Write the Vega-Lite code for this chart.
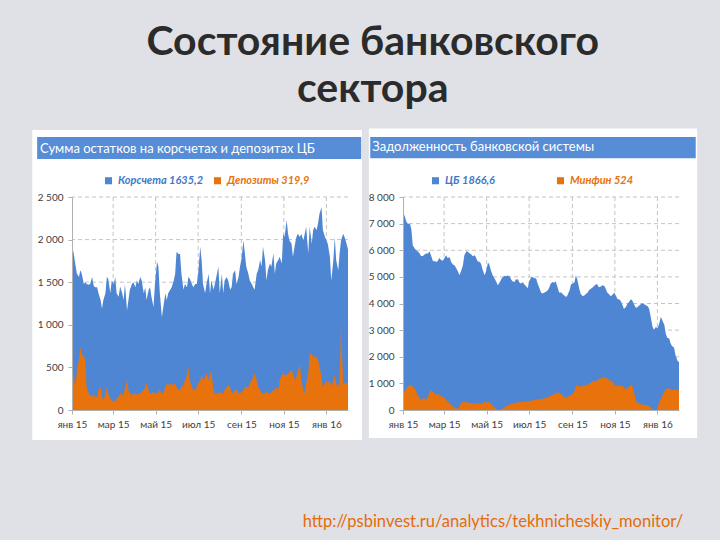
{
"$schema": "https://vega.github.io/schema/vega-lite/v6.json",
"background": "#dfe1e6",
"padding": {"left": 32, "top": 22, "right": 23, "bottom": 13},
"title": {"text": ["Состояние банковского", "сектора"], "font": "Lato", "fontSize": 41, "fontWeight": "bold", "color": "#2b2b2b", "lineHeight": 47, "anchor": "middle", "dx": 8, "offset": 17},
"config": {"view": {"stroke": null}},
"datasets": {"s": [
{"d":"2015-01-01","k":1860,"p":470,"c":7375,"m":560},
{"d":"2015-01-03","k":1860,"p":430,"c":7310,"m":690},
{"d":"2015-01-06","k":1700,"p":270,"c":7060,"m":810},
{"d":"2015-01-08","k":1600,"p":470,"c":7000,"m":875},
{"d":"2015-01-11","k":1560,"p":590,"c":7000,"m":935},
{"d":"2015-01-13","k":1640,"p":740,"c":6790,"m":935},
{"d":"2015-01-15","k":1600,"p":660,"c":6190,"m":875},
{"d":"2015-01-18","k":1480,"p":625,"c":6060,"m":810},
{"d":"2015-01-20","k":1500,"p":590,"c":6000,"m":690},
{"d":"2015-01-22","k":1480,"p":270,"c":5960,"m":560},
{"d":"2015-01-25","k":1470,"p":195,"c":5875,"m":440},
{"d":"2015-01-27","k":1480,"p":175,"c":5775,"m":375},
{"d":"2015-01-30","k":1560,"p":155,"c":5790,"m":440},
{"d":"2015-02-01","k":1460,"p":195,"c":5840,"m":440},
{"d":"2015-02-03","k":1440,"p":155,"c":5875,"m":375},
{"d":"2015-02-06","k":1440,"p":155,"c":5875,"m":500},
{"d":"2015-02-08","k":1370,"p":235,"c":5960,"m":690},
{"d":"2015-02-11","k":1290,"p":270,"c":5750,"m":750},
{"d":"2015-02-13","k":1190,"p":155,"c":5590,"m":690},
{"d":"2015-02-15","k":1290,"p":115,"c":5600,"m":625},
{"d":"2015-02-18","k":1370,"p":195,"c":5560,"m":560},
{"d":"2015-02-20","k":1560,"p":270,"c":5610,"m":625},
{"d":"2015-02-22","k":1540,"p":195,"c":5710,"m":560},
{"d":"2015-02-25","k":1370,"p":135,"c":5625,"m":500},
{"d":"2015-02-27","k":1520,"p":115,"c":5610,"m":500},
{"d":"2015-03-02","k":1480,"p":100,"c":5725,"m":440},
{"d":"2015-03-04","k":1560,"p":100,"c":5810,"m":375},
{"d":"2015-03-06","k":1370,"p":135,"c":5710,"m":310},
{"d":"2015-03-09","k":1330,"p":155,"c":5740,"m":250},
{"d":"2015-03-11","k":1450,"p":195,"c":5560,"m":190},
{"d":"2015-03-14","k":1370,"p":175,"c":5460,"m":125},
{"d":"2015-03-16","k":1290,"p":195,"c":5440,"m":90},
{"d":"2015-03-18","k":1480,"p":255,"c":5340,"m":60},
{"d":"2015-03-21","k":1170,"p":350,"c":5190,"m":60},
{"d":"2015-03-23","k":1290,"p":235,"c":5060,"m":125},
{"d":"2015-03-25","k":1410,"p":195,"c":5190,"m":250},
{"d":"2015-03-28","k":1480,"p":175,"c":5440,"m":310},
{"d":"2015-03-30","k":1500,"p":195,"c":5810,"m":310},
{"d":"2015-04-02","k":1440,"p":195,"c":5960,"m":290},
{"d":"2015-04-04","k":1520,"p":175,"c":5940,"m":275},
{"d":"2015-04-06","k":1480,"p":195,"c":5900,"m":275},
{"d":"2015-04-09","k":1560,"p":195,"c":5840,"m":260},
{"d":"2015-04-11","k":1520,"p":215,"c":5775,"m":250},
{"d":"2015-04-14","k":1370,"p":235,"c":5810,"m":250},
{"d":"2015-04-16","k":1440,"p":270,"c":5710,"m":250},
{"d":"2015-04-18","k":1290,"p":310,"c":5590,"m":250},
{"d":"2015-04-21","k":1410,"p":235,"c":5560,"m":225},
{"d":"2015-04-23","k":1440,"p":195,"c":5490,"m":225},
{"d":"2015-04-25","k":1330,"p":195,"c":5290,"m":250},
{"d":"2015-04-28","k":1210,"p":215,"c":5060,"m":310},
{"d":"2015-04-30","k":1480,"p":195,"c":5190,"m":260},
{"d":"2015-05-03","k":1740,"p":195,"c":5540,"m":310},
{"d":"2015-05-05","k":1680,"p":215,"c":5460,"m":290},
{"d":"2015-05-07","k":1370,"p":235,"c":5250,"m":240},
{"d":"2015-05-10","k":1090,"p":195,"c":5040,"m":160},
{"d":"2015-05-12","k":1210,"p":195,"c":4960,"m":90},
{"d":"2015-05-15","k":1370,"p":270,"c":4810,"m":50},
{"d":"2015-05-17","k":1290,"p":310,"c":4690,"m":12},
{"d":"2015-05-19","k":1370,"p":290,"c":4760,"m":0},
{"d":"2015-05-22","k":1410,"p":310,"c":4910,"m":25},
{"d":"2015-05-24","k":1440,"p":290,"c":4990,"m":60},
{"d":"2015-05-27","k":1520,"p":310,"c":5040,"m":100},
{"d":"2015-05-29","k":1600,"p":310,"c":5025,"m":140},
{"d":"2015-05-31","k":1855,"p":270,"c":5050,"m":175},
{"d":"2015-06-03","k":1830,"p":235,"c":5025,"m":200},
{"d":"2015-06-05","k":1830,"p":235,"c":4910,"m":225},
{"d":"2015-06-07","k":1600,"p":270,"c":4840,"m":240},
{"d":"2015-06-10","k":1410,"p":290,"c":4810,"m":260},
{"d":"2015-06-12","k":1480,"p":350,"c":4910,"m":275},
{"d":"2015-06-15","k":1440,"p":410,"c":4900,"m":290},
{"d":"2015-06-17","k":1560,"p":510,"c":4790,"m":300},
{"d":"2015-06-19","k":1540,"p":350,"c":4750,"m":290},
{"d":"2015-06-22","k":1480,"p":270,"c":4800,"m":310},
{"d":"2015-06-24","k":1440,"p":235,"c":4710,"m":310},
{"d":"2015-06-27","k":1480,"p":235,"c":4640,"m":325},
{"d":"2015-06-29","k":1480,"p":270,"c":4575,"m":310},
{"d":"2015-07-01","k":1600,"p":310,"c":4840,"m":325},
{"d":"2015-07-04","k":1915,"p":350,"c":4990,"m":360},
{"d":"2015-07-06","k":1760,"p":410,"c":5000,"m":360},
{"d":"2015-07-08","k":1480,"p":350,"c":4960,"m":375},
{"d":"2015-07-11","k":1370,"p":390,"c":4940,"m":390},
{"d":"2015-07-13","k":1480,"p":430,"c":4760,"m":400},
{"d":"2015-07-16","k":1600,"p":350,"c":4560,"m":400},
{"d":"2015-07-18","k":1370,"p":430,"c":4410,"m":410},
{"d":"2015-07-20","k":1520,"p":450,"c":4375,"m":425},
{"d":"2015-07-23","k":1410,"p":235,"c":4410,"m":440},
{"d":"2015-07-25","k":1480,"p":195,"c":4440,"m":450},
{"d":"2015-07-28","k":1600,"p":195,"c":4510,"m":490},
{"d":"2015-07-30","k":1680,"p":195,"c":4610,"m":500},
{"d":"2015-08-01","k":1370,"p":215,"c":4750,"m":540},
{"d":"2015-08-04","k":1600,"p":195,"c":4810,"m":575},
{"d":"2015-08-06","k":1370,"p":195,"c":4775,"m":610},
{"d":"2015-08-08","k":1520,"p":235,"c":4840,"m":625},
{"d":"2015-08-11","k":1560,"p":270,"c":4590,"m":650},
{"d":"2015-08-13","k":1520,"p":290,"c":4410,"m":660},
{"d":"2015-08-16","k":1410,"p":270,"c":4410,"m":600},
{"d":"2015-08-18","k":1440,"p":195,"c":4360,"m":540},
{"d":"2015-08-20","k":1600,"p":195,"c":4310,"m":500},
{"d":"2015-08-23","k":1640,"p":235,"c":4240,"m":460},
{"d":"2015-08-25","k":1480,"p":235,"c":4310,"m":490},
{"d":"2015-08-28","k":1560,"p":195,"c":4500,"m":540},
{"d":"2015-08-30","k":1680,"p":215,"c":4710,"m":560},
{"d":"2015-09-01","k":1760,"p":195,"c":4740,"m":600},
{"d":"2015-09-04","k":1990,"p":235,"c":4790,"m":710},
{"d":"2015-09-06","k":1840,"p":270,"c":5060,"m":900},
{"d":"2015-09-08","k":1680,"p":270,"c":4910,"m":935},
{"d":"2015-09-11","k":1600,"p":270,"c":4540,"m":900},
{"d":"2015-09-13","k":1520,"p":310,"c":4360,"m":875},
{"d":"2015-09-16","k":1480,"p":350,"c":4275,"m":910},
{"d":"2015-09-18","k":1440,"p":390,"c":4300,"m":935},
{"d":"2015-09-20","k":1410,"p":430,"c":4350,"m":900},
{"d":"2015-09-23","k":1600,"p":350,"c":4410,"m":935},
{"d":"2015-09-25","k":1640,"p":270,"c":4510,"m":1000},
{"d":"2015-09-28","k":1760,"p":235,"c":4560,"m":1025},
{"d":"2015-09-30","k":1680,"p":195,"c":4600,"m":1060},
{"d":"2015-10-02","k":1915,"p":195,"c":4660,"m":1100},
{"d":"2015-10-05","k":1760,"p":195,"c":4725,"m":1090},
{"d":"2015-10-07","k":1520,"p":215,"c":4710,"m":1110},
{"d":"2015-10-09","k":1640,"p":195,"c":4610,"m":1160},
{"d":"2015-10-12","k":1720,"p":195,"c":4640,"m":1190},
{"d":"2015-10-14","k":1680,"p":215,"c":4690,"m":1210},
{"d":"2015-10-17","k":1840,"p":235,"c":4660,"m":1210},
{"d":"2015-10-19","k":1600,"p":235,"c":4540,"m":1200},
{"d":"2015-10-21","k":1720,"p":270,"c":4410,"m":1175},
{"d":"2015-10-24","k":1760,"p":235,"c":4340,"m":1140},
{"d":"2015-10-26","k":1800,"p":350,"c":4275,"m":1090},
{"d":"2015-10-29","k":1720,"p":410,"c":4340,"m":1040},
{"d":"2015-10-31","k":2070,"p":430,"c":4410,"m":960},
{"d":"2015-11-02","k":2030,"p":410,"c":4310,"m":900},
{"d":"2015-11-05","k":2230,"p":410,"c":4160,"m":910},
{"d":"2015-11-07","k":2070,"p":430,"c":4160,"m":890},
{"d":"2015-11-09","k":1990,"p":450,"c":4110,"m":910},
{"d":"2015-11-12","k":1950,"p":470,"c":3940,"m":890},
{"d":"2015-11-14","k":1800,"p":430,"c":3790,"m":840},
{"d":"2015-11-17","k":1950,"p":350,"c":3875,"m":790},
{"d":"2015-11-19","k":2030,"p":390,"c":3990,"m":810},
{"d":"2015-11-21","k":2070,"p":450,"c":4050,"m":875},
{"d":"2015-11-24","k":2030,"p":550,"c":4160,"m":935},
{"d":"2015-11-26","k":2070,"p":350,"c":4110,"m":910},
{"d":"2015-11-29","k":1990,"p":235,"c":3940,"m":625},
{"d":"2015-12-01","k":2070,"p":195,"c":3840,"m":375},
{"d":"2015-12-03","k":2150,"p":310,"c":3860,"m":275},
{"d":"2015-12-06","k":1840,"p":430,"c":3925,"m":250},
{"d":"2015-12-08","k":2150,"p":660,"c":3975,"m":225},
{"d":"2015-12-11","k":1950,"p":660,"c":4000,"m":200},
{"d":"2015-12-13","k":2110,"p":625,"c":3975,"m":190},
{"d":"2015-12-15","k":2150,"p":625,"c":3940,"m":190},
{"d":"2015-12-18","k":2110,"p":625,"c":3900,"m":175},
{"d":"2015-12-20","k":2190,"p":590,"c":3810,"m":140},
{"d":"2015-12-22","k":2300,"p":510,"c":3560,"m":90},
{"d":"2015-12-25","k":2380,"p":390,"c":3125,"m":25},
{"d":"2015-12-27","k":2110,"p":270,"c":3010,"m":0},
{"d":"2015-12-30","k":2030,"p":310,"c":3125,"m":0},
{"d":"2016-01-01","k":1990,"p":350,"c":3060,"m":40},
{"d":"2016-01-03","k":1950,"p":310,"c":3190,"m":250},
{"d":"2016-01-06","k":1800,"p":350,"c":3500,"m":410},
{"d":"2016-01-08","k":1520,"p":270,"c":3375,"m":540},
{"d":"2016-01-11","k":1760,"p":350,"c":3190,"m":690},
{"d":"2016-01-13","k":2030,"p":410,"c":2875,"m":790},
{"d":"2016-01-15","k":1760,"p":310,"c":2710,"m":810},
{"d":"2016-01-18","k":1640,"p":270,"c":2690,"m":810},
{"d":"2016-01-20","k":1840,"p":350,"c":2500,"m":790},
{"d":"2016-01-22","k":1990,"p":975,"c":2400,"m":750},
{"d":"2016-01-25","k":2070,"p":310,"c":2340,"m":760},
{"d":"2016-01-27","k":2030,"p":310,"c":2060,"m":750},
{"d":"2016-01-30","k":1950,"p":310,"c":1840,"m":750},
{"d":"2016-02-01","k":1880,"p":310,"c":1800,"m":740}
]},
"vconcat": [{
"title": {"text": "http://psbinvest.ru/analytics/tekhnicheskiy_monitor/", "orient": "bottom", "anchor": "end", "offset": 74, "dx": -14, "font": "Lato", "fontSize": 16.5, "fontWeight": "normal", "color": "#e46c0a"},
"spacing": 6,
"resolve": {"scale": {"color": "independent", "x": "independent", "y": "independent"}, "legend": {"color": "independent"}},
"hconcat": [
{
"width": 276, "height": 213,
"data": {"name": "s"},
"layer": [
{"data": {"values": [{}]}, "mark": {"type": "rect", "color": "#ffffff"},
 "encoding": {"x": {"datum": {"year": 2014, "month": 11, "date": 5}, "type": "temporal"}, "x2": {"datum": {"year": 2016, "month": 2, "date": 21}},
  "y": {"datum": -352, "type": "quantitative", "axis": {"title": null, "grid": false, "zindex": 1, "values": [0, 500, 1000, 1500, 2000, 2500], "labelExpr": "replace(format(datum.value, ','), ',', ' ')", "domainColor": "#b0b0b0", "tickColor": "#b0b0b0", "tickSize": 4, "labelColor": "#404040", "labelFont": "Lato", "labelFontSize": 10, "labelPadding": 5, "labelOverlap": false}}, "y2": {"datum": 3285}}},
{"data": {"values": [{}]}, "mark": {"type": "rect", "color": "#568dd6"},
 "encoding": {"x": {"datum": {"year": 2014, "month": 11, "date": 12}, "type": "temporal"}, "x2": {"datum": {"year": 2016, "month": 2, "date": 20}},
  "y": {"datum": 2945, "type": "quantitative"}, "y2": {"datum": 3203}}},
{"data": {"values": [{}]}, "mark": {"type": "text", "align": "left", "baseline": "middle", "color": "#ffffff", "font": "Lato", "fontSize": 13},
 "encoding": {"x": {"datum": {"year": 2014, "month": 11, "date": 16}, "type": "temporal"},
  "y": {"datum": 3063, "type": "quantitative"}, "text": {"value": "Сумма остатков на корсчетах и депозитах ЦБ"}}},
{"data": {"values": [{"g": "2015-03-01"}, {"g": "2015-05-01"}, {"g": "2015-07-01"}, {"g": "2015-09-01"}, {"g": "2015-11-01"}, {"g": "2016-01-01"}]},
 "mark": {"type": "rule", "color": "#c4c4c4", "strokeDash": [4, 3], "strokeWidth": 1},
 "encoding": {"x": {"field": "g", "type": "temporal"}}},
{"data": {"values": [{"v": 500}, {"v": 1000}, {"v": 1500}, {"v": 2000}, {"v": 2500}]},
 "mark": {"type": "rule", "color": "#c4c4c4", "strokeDash": [4, 3], "strokeWidth": 1},
 "encoding": {"y": {"field": "v", "type": "quantitative"}}},
{"mark": {"type": "area"},
 "encoding": {
  "x": {"field": "d", "type": "temporal",
   "scale": {"domain": [{"year": 2015, "month": 1, "date": 1}, {"year": 2016, "month": 2, "date": 1}], "nice": false},
   "axis": {"title": null, "grid": false, "zindex": 1, "values": [{"year": 2015, "month": 1, "date": 1}, {"year": 2015, "month": 3, "date": 1}, {"year": 2015, "month": 5, "date": 1}, {"year": 2015, "month": 7, "date": 1}, {"year": 2015, "month": 9, "date": 1}, {"year": 2015, "month": 11, "date": 1}, {"year": 2016, "month": 1, "date": 1}],
    "labelExpr": "['янв','фев','мар','апр','май','июн','июл','авг','сен','окт','ноя','дек'][month(datum.value)] + ' ' + timeFormat(datum.value, '%y')",
    "domainColor": "#b0b0b0", "tickColor": "#b0b0b0", "tickSize": 4, "labelColor": "#404040", "labelFont": "Lato", "labelFontSize": 10, "labelPadding": 5, "labelFlush": false, "labelOverlap": false}},
  "y": {"field": "k", "type": "quantitative",
   "scale": {"domain": [0, 2500], "nice": false},
   "axis": {"title": null, "grid": false, "zindex": 1, "values": [0, 500, 1000, 1500, 2000, 2500], "labelExpr": "replace(format(datum.value, ','), ',', ' ')",
    "domainColor": "#b0b0b0", "tickColor": "#b0b0b0", "tickSize": 4, "labelColor": "#404040", "labelFont": "Lato", "labelFontSize": 10, "labelPadding": 5, "labelOverlap": false}},
  "color": {"datum": "Корсчета 1635,2", "type": "nominal",
   "scale": {"domain": ["Корсчета 1635,2", "Депозиты 319,9"], "range": ["#4f86d3", "#e8720c"]},
   "legend": {"orient": "none", "legendX": 31, "legendY": -22, "direction": "horizontal", "title": null, "symbolType": "square", "symbolSize": 50, "symbolStrokeWidth": 0,
    "labelFont": "Lato", "labelFontSize": 11, "labelFontStyle": "italic", "labelFontWeight": "bold", "columnPadding": 8, "labelOffset": 4,
    "encode": {"labels": {"update": {"fill": [{"test": "datum.value === 'Депозиты 319,9'", "value": "#e8720c"}, {"value": "#3f78c8"}]}}}}}
 }},
{"mark": {"type": "area"},
 "encoding": {
  "x": {"field": "d", "type": "temporal"},
  "y": {"field": "p", "type": "quantitative"},
  "color": {"datum": "Депозиты 319,9", "type": "nominal"}
 }}
]
},
{
"width": 276, "height": 213,
"data": {"name": "s"},
"layer": [
{"data": {"values": [{}]}, "mark": {"type": "rect", "color": "#ffffff"},
 "encoding": {"x": {"datum": {"year": 2014, "month": 11, "date": 13}, "type": "temporal"}, "x2": {"datum": {"year": 2016, "month": 2, "date": 27}},
  "y": {"datum": -1050, "type": "quantitative", "axis": {"title": null, "grid": false, "zindex": 1, "values": [0, 1000, 2000, 3000, 4000, 5000, 6000, 7000, 8000], "labelExpr": "replace(format(datum.value, ','), ',', ' ')", "domainColor": "#b0b0b0", "tickColor": "#b0b0b0", "tickSize": 4, "labelColor": "#404040", "labelFont": "Lato", "labelFontSize": 10, "labelPadding": 5, "labelOverlap": false}}, "y2": {"datum": 10576}}},
{"data": {"values": [{}]}, "mark": {"type": "rect", "color": "#568dd6"},
 "encoding": {"x": {"datum": {"year": 2014, "month": 11, "date": 15}, "type": "temporal"}, "x2": {"datum": {"year": 2016, "month": 2, "date": 25}},
  "y": {"datum": 9460, "type": "quantitative", "axis": {"title": null, "grid": false, "zindex": 1, "values": [0, 1000, 2000, 3000, 4000, 5000, 6000, 7000, 8000], "labelExpr": "replace(format(datum.value, ','), ',', ' ')", "domainColor": "#b0b0b0", "tickColor": "#b0b0b0", "tickSize": 4, "labelColor": "#404040", "labelFont": "Lato", "labelFontSize": 10, "labelPadding": 5, "labelOverlap": false}}, "y2": {"datum": 10250}}},
{"data": {"values": [{}]}, "mark": {"type": "text", "align": "left", "baseline": "middle", "color": "#ffffff", "font": "Lato", "fontSize": 13},
 "encoding": {"x": {"datum": {"year": 2014, "month": 11, "date": 18}, "type": "temporal"},
  "y": {"datum": 9864, "type": "quantitative", "axis": {"title": null, "grid": false, "zindex": 1, "values": [0, 1000, 2000, 3000, 4000, 5000, 6000, 7000, 8000], "labelExpr": "replace(format(datum.value, ','), ',', ' ')", "domainColor": "#b0b0b0", "tickColor": "#b0b0b0", "tickSize": 4, "labelColor": "#404040", "labelFont": "Lato", "labelFontSize": 10, "labelPadding": 5, "labelOverlap": false}}, "text": {"value": "Задолженность банковской системы"}}},
{"data": {"values": [{"g": "2015-03-01"}, {"g": "2015-05-01"}, {"g": "2015-07-01"}, {"g": "2015-09-01"}, {"g": "2015-11-01"}, {"g": "2016-01-01"}]},
 "mark": {"type": "rule", "color": "#c4c4c4", "strokeDash": [4, 3], "strokeWidth": 1},
 "encoding": {"x": {"field": "g", "type": "temporal"}}},
{"data": {"values": [{"v": 1000}, {"v": 2000}, {"v": 3000}, {"v": 4000}, {"v": 5000}, {"v": 6000}, {"v": 7000}, {"v": 8000}]},
 "mark": {"type": "rule", "color": "#c4c4c4", "strokeDash": [4, 3], "strokeWidth": 1},
 "encoding": {"y": {"field": "v", "type": "quantitative", "axis": {"title": null, "grid": false, "zindex": 1, "values": [0, 1000, 2000, 3000, 4000, 5000, 6000, 7000, 8000], "labelExpr": "replace(format(datum.value, ','), ',', ' ')", "domainColor": "#b0b0b0", "tickColor": "#b0b0b0", "tickSize": 4, "labelColor": "#404040", "labelFont": "Lato", "labelFontSize": 10, "labelPadding": 5, "labelOverlap": false}}}},
{"mark": {"type": "area"},
 "encoding": {
  "x": {"field": "d", "type": "temporal",
   "scale": {"domain": [{"year": 2015, "month": 1, "date": 1}, {"year": 2016, "month": 2, "date": 1}], "nice": false},
   "axis": {"title": null, "grid": false, "zindex": 1, "values": [{"year": 2015, "month": 1, "date": 1}, {"year": 2015, "month": 3, "date": 1}, {"year": 2015, "month": 5, "date": 1}, {"year": 2015, "month": 7, "date": 1}, {"year": 2015, "month": 9, "date": 1}, {"year": 2015, "month": 11, "date": 1}, {"year": 2016, "month": 1, "date": 1}],
    "labelExpr": "['янв','фев','мар','апр','май','июн','июл','авг','сен','окт','ноя','дек'][month(datum.value)] + ' ' + timeFormat(datum.value, '%y')",
    "domainColor": "#b0b0b0", "tickColor": "#b0b0b0", "tickSize": 4, "labelColor": "#404040", "labelFont": "Lato", "labelFontSize": 10, "labelPadding": 5, "labelFlush": false, "labelOverlap": false}},
  "y": {"field": "c", "type": "quantitative",
   "scale": {"domain": [0, 8000], "nice": false},
   "axis": {"title": null, "grid": false, "zindex": 1, "values": [0, 1000, 2000, 3000, 4000, 5000, 6000, 7000, 8000], "labelExpr": "replace(format(datum.value, ','), ',', ' ')",
    "domainColor": "#b0b0b0", "tickColor": "#b0b0b0", "tickSize": 4, "labelColor": "#404040", "labelFont": "Lato", "labelFontSize": 10, "labelPadding": 5, "labelOverlap": false}},
  "color": {"datum": "ЦБ 1866,6", "type": "nominal",
   "scale": {"domain": ["ЦБ 1866,6", "Минфин 524"], "range": ["#4f86d3", "#e8720c"]},
   "legend": {"orient": "none", "legendX": 27, "legendY": -22, "direction": "horizontal", "title": null, "symbolType": "square", "symbolSize": 50, "symbolStrokeWidth": 0,
    "labelFont": "Lato", "labelFontSize": 11, "labelFontStyle": "italic", "labelFontWeight": "bold", "columnPadding": 60, "labelOffset": 4,
    "encode": {"labels": {"update": {"fill": [{"test": "datum.value === 'Минфин 524'", "value": "#e8720c"}, {"value": "#3f78c8"}]}}}}}
 }},
{"mark": {"type": "area"},
 "encoding": {
  "x": {"field": "d", "type": "temporal"},
  "y": {"field": "m", "type": "quantitative", "axis": {"title": null, "grid": false, "zindex": 1, "values": [0, 1000, 2000, 3000, 4000, 5000, 6000, 7000, 8000], "labelExpr": "replace(format(datum.value, ','), ',', ' ')", "domainColor": "#b0b0b0", "tickColor": "#b0b0b0", "tickSize": 4, "labelColor": "#404040", "labelFont": "Lato", "labelFontSize": 10, "labelPadding": 5, "labelOverlap": false}},
  "color": {"datum": "Минфин 524", "type": "nominal"}
 }}
]
}
]
}]
}
